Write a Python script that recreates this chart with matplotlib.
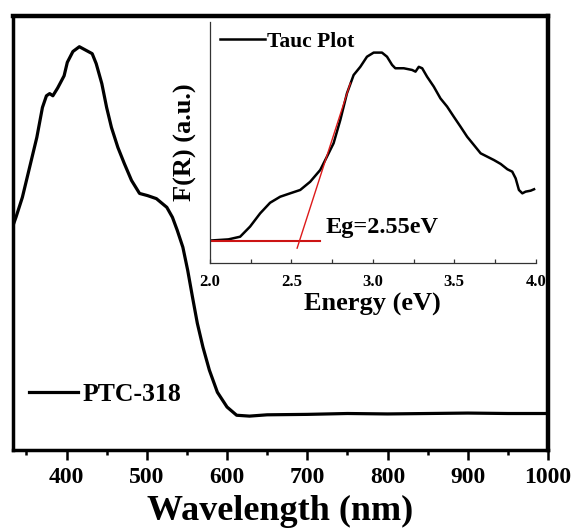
import matplotlib
matplotlib.use("Agg")
import matplotlib.pyplot as plt
from matplotlib.ticker import MultipleLocator, NullLocator

plt.rcParams['font.family'] = ['Liberation Serif', 'DejaVu Serif']
plt.rcParams['font.weight'] = 'bold'

# UV-Vis diffuse reflectance spectrum
wavelength = [332, 337, 345, 354, 363, 370, 375, 379, 383, 389, 397, 401,
              408, 416, 425, 432, 437, 444, 450, 456, 464, 472, 481, 491,
              501, 512, 525, 532, 538, 545, 551, 557, 563, 570, 578, 588,
              600, 612, 628, 650, 700, 750, 800, 850, 900, 950, 1000]
absorbance = [0.510, 0.536, 0.582, 0.651, 0.720, 0.789, 0.816, 0.821, 0.816,
              0.834, 0.862, 0.893, 0.918, 0.929, 0.920, 0.913, 0.890, 0.844,
              0.789, 0.743, 0.697, 0.660, 0.621, 0.591, 0.586, 0.579, 0.559,
              0.536, 0.506, 0.467, 0.414, 0.352, 0.292, 0.237, 0.184, 0.133,
              0.099, 0.080, 0.078, 0.081, 0.082, 0.084, 0.083, 0.084, 0.085,
              0.084, 0.084]

# Tauc plot (Kubelka-Munk)
energy = [2.000, 2.113, 2.185, 2.246, 2.308, 2.369, 2.431, 2.492, 2.554,
          2.615, 2.677, 2.718, 2.759, 2.800, 2.841, 2.882, 2.923, 2.964,
          3.005, 3.056, 3.087, 3.118, 3.138, 3.190, 3.241, 3.262, 3.282,
          3.303, 3.333, 3.374, 3.415, 3.456, 3.497, 3.538, 3.579, 3.620,
          3.662, 3.703, 3.744, 3.785, 3.826, 3.856, 3.877, 3.897, 3.918,
          3.938, 3.969, 3.990]
f_r = [0.093, 0.098, 0.109, 0.151, 0.206, 0.250, 0.275, 0.289, 0.303,
       0.337, 0.386, 0.441, 0.497, 0.593, 0.704, 0.780, 0.814, 0.856,
       0.873, 0.873, 0.856, 0.822, 0.808, 0.808, 0.801, 0.794, 0.814,
       0.808, 0.773, 0.732, 0.683, 0.649, 0.607, 0.566, 0.524, 0.490,
       0.455, 0.441, 0.427, 0.411, 0.389, 0.379, 0.351, 0.303, 0.289,
       0.296, 0.300, 0.306]

# band gap extrapolation
eg = 2.55
baseline = 0.093
slope = 2.095
tangent_e = [2.535, 2.862]
baseline_e = [2.0, 2.677]

fig = plt.figure(figsize=(5.79, 5.30), dpi=100)
ax = fig.add_axes([0.022, 0.151, 0.9245, 0.819])
ax.plot(wavelength, absorbance, color='black', lw=2.3, label='PTC-318',
        solid_joinstyle='round')
ax.set_xlim(333, 1000)
ax.set_ylim(0, 1.0)
ax.xaxis.set_major_locator(MultipleLocator(100))
ax.xaxis.set_minor_locator(MultipleLocator(50))
ax.yaxis.set_major_locator(NullLocator())
ax.tick_params(axis='x', which='major', direction='out', length=7, width=1.8,
               labelsize=17, pad=5)
ax.tick_params(axis='x', which='minor', direction='out', length=3.5, width=1.8)
for lab in ax.get_xticklabels():
    lab.set_fontweight('bold')
for side in ['left', 'bottom']:
    ax.spines[side].set_linewidth(2.5)
for side in ['top', 'right']:
    ax.spines[side].set_linewidth(3.2)
ax.set_xlabel('Wavelength (nm)', fontsize=26, fontweight='bold', labelpad=5)
ax.legend(loc='center left', bbox_to_anchor=(0.03, 0.127), frameon=False,
          fontsize=18.5, handlelength=1.9, handletextpad=0.2,
          borderpad=0, borderaxespad=0)

# inset with the Tauc plot
ins = fig.add_axes([0.3627, 0.5038, 0.5625, 0.4547])
ins.set_zorder(ax.get_zorder() - 1)
ax.patch.set_alpha(0)
ins.patch.set_alpha(0)
ins.plot(energy, f_r, color='black', lw=1.8, label='Tauc Plot',
         solid_joinstyle='round')
ins.plot(baseline_e, [baseline, baseline], color='#cc1414', lw=1.5)
ins.plot(tangent_e, [baseline + slope * (e - eg) for e in tangent_e],
         color='#dd1a1a', lw=1.0)
ins.text(2.708, 0.149, 'Eg=%.2feV' % eg, fontsize=17.5, fontweight='bold',
         ha='left', va='center')
ins.set_xlim(2.0, 4.0)
ins.set_ylim(0, 1.0)
ins.xaxis.set_major_locator(MultipleLocator(0.5))
ins.xaxis.set_minor_locator(MultipleLocator(0.25))
ins.yaxis.set_major_locator(NullLocator())
ins.tick_params(axis='x', which='both', direction='in', length=3, width=0.9,
                labelsize=12, pad=8, color='#333333')
for lab in ins.get_xticklabels():
    lab.set_fontweight('bold')
ins.spines['top'].set_visible(False)
ins.spines['right'].set_visible(False)
for side in ['left', 'bottom']:
    ins.spines[side].set_linewidth(0.9)
    ins.spines[side].set_color('#333333')
ins.set_xlabel('Energy (eV)', fontsize=19, fontweight='bold', labelpad=2)
ins.set_ylabel('F(R) (a.u.)', fontsize=19, fontweight='bold')
ins.yaxis.set_label_coords(-0.04, 0.502)
ins.legend(loc='center left', bbox_to_anchor=(0.031, 0.917), frameon=False,
           fontsize=15.5, handlelength=2.1, handletextpad=0.1,
           borderpad=0, borderaxespad=0)

fig.savefig('out.png', dpi=100)
